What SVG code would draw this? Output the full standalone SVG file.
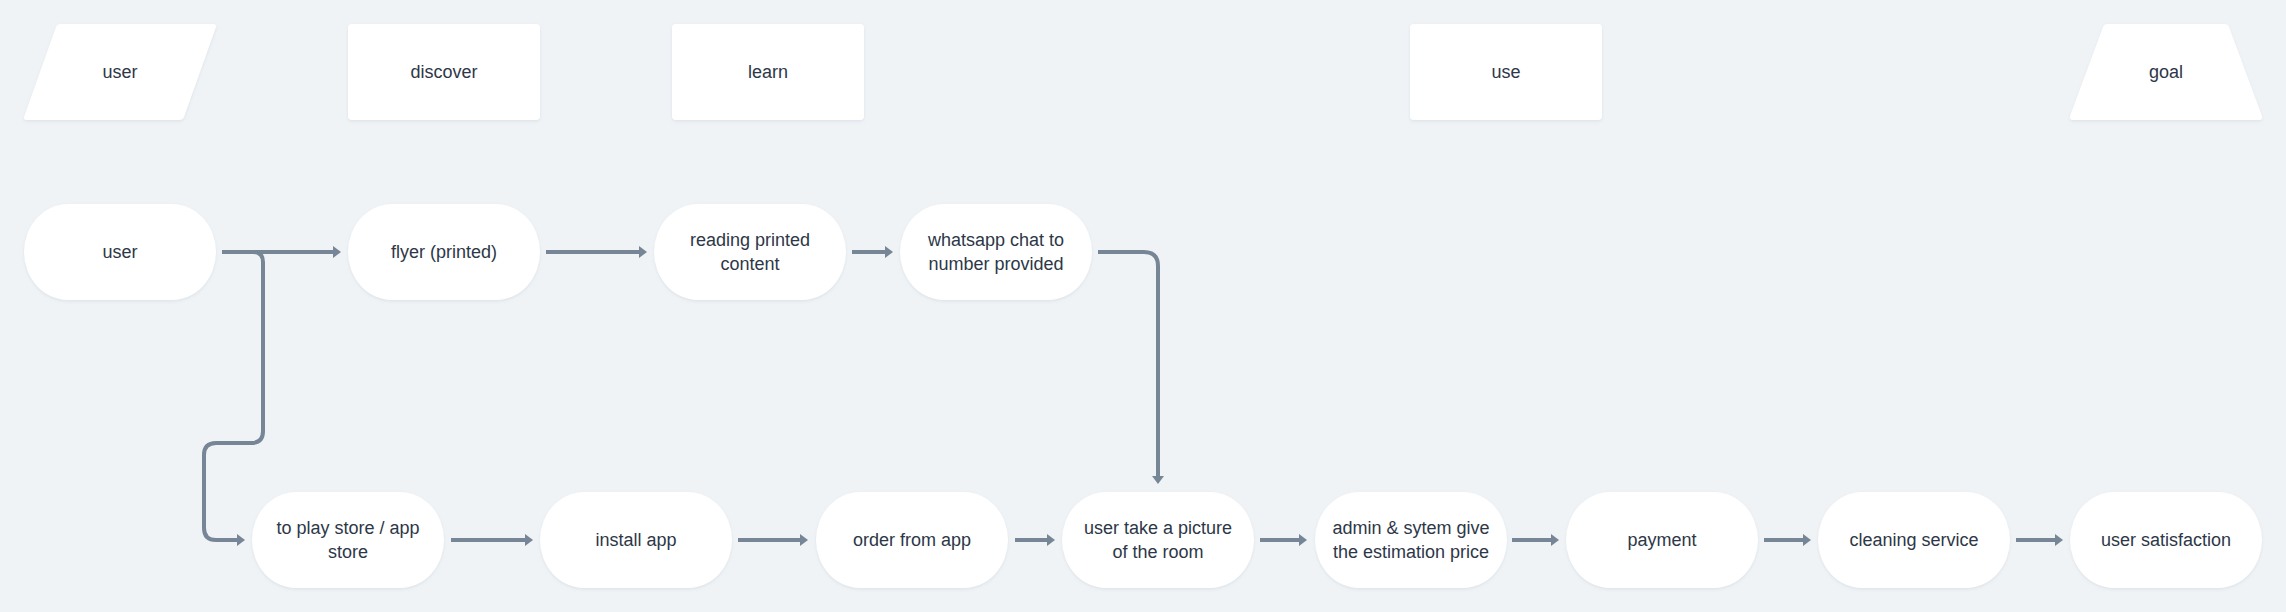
<svg xmlns="http://www.w3.org/2000/svg" width="2286" height="612" viewBox="0 0 2286 612">
<style>
.n{fill:#ffffff;filter:url(#sh)}
.t{font-family:"Liberation Sans",Arial,sans-serif;font-size:18px;fill:#2d3748;text-anchor:middle}
.c{fill:none;stroke:#768696;stroke-width:4;marker-end:url(#ah)}
</style>
<defs>
<filter id="sh" x="-10%" y="-10%" width="120%" height="130%">
<feDropShadow dx="0" dy="1.5" stdDeviation="1.5" flood-color="#8a99a8" flood-opacity="0.18"/>
</filter>
<marker id="ah" markerUnits="userSpaceOnUse" markerWidth="10" markerHeight="14" refX="0" refY="6" orient="auto">
<path d="M0,0 L8,6 L0,12 z" fill="#768696"/>
</marker>
</defs>
<rect width="2286" height="612" fill="#eff3f6"/>

<g id="h-user"><path class="n" d="M61,24 H213 Q217,24 216,27 L184,117 Q183,120 179,120 H27 Q23,120 24,117 L56,27 Q57,24 61,24 Z"/><text class="t" x="120" y="78">user</text></g>
<g id="h-discover"><rect class="n" x="348" y="24" width="192" height="96" rx="4"/><text class="t" x="444" y="78">discover</text></g>
<g id="h-learn"><rect class="n" x="672" y="24" width="192" height="96" rx="4"/><text class="t" x="768" y="78">learn</text></g>
<g id="h-use"><rect class="n" x="1410" y="24" width="192" height="96" rx="4"/><text class="t" x="1506" y="78">use</text></g>
<g id="h-goal"><path class="n" d="M2108,24 H2224 Q2228,24 2229,27 L2262,116 Q2263,120 2259,120 H2073 Q2069,120 2070,116 L2103,27 Q2104,24 2108,24 Z"/><text class="t" x="2166" y="78">goal</text></g>

<g id="user"><rect class="n" x="24" y="204" width="192" height="96" rx="44" ry="48"/><text class="t" x="120" y="258">user</text></g>
<g id="flyer"><rect class="n" x="348" y="204" width="192" height="96" rx="44" ry="48"/><text class="t" x="444" y="258">flyer (printed)</text></g>
<g id="reading"><rect class="n" x="654" y="204" width="192" height="96" rx="44" ry="48"/><text class="t" x="750" y="246">reading printed</text><text class="t" x="750" y="270">content</text></g>
<g id="whatsapp"><rect class="n" x="900" y="204" width="192" height="96" rx="44" ry="48"/><text class="t" x="996" y="246">whatsapp chat to</text><text class="t" x="996" y="270">number provided</text></g>

<g id="playstore"><rect class="n" x="252" y="492" width="192" height="96" rx="44" ry="48"/><text class="t" x="348" y="534">to play store / app</text><text class="t" x="348" y="558">store</text></g>
<g id="install"><rect class="n" x="540" y="492" width="192" height="96" rx="44" ry="48"/><text class="t" x="636" y="546">install app</text></g>
<g id="order"><rect class="n" x="816" y="492" width="192" height="96" rx="44" ry="48"/><text class="t" x="912" y="546">order from app</text></g>
<g id="picture"><rect class="n" x="1062" y="492" width="192" height="96" rx="44" ry="48"/><text class="t" x="1158" y="534">user take a picture</text><text class="t" x="1158" y="558">of the room</text></g>
<g id="admin"><rect class="n" x="1315" y="492" width="192" height="96" rx="44" ry="48"/><text class="t" x="1411" y="534">admin &amp; sytem give</text><text class="t" x="1411" y="558">the estimation price</text></g>
<g id="payment"><rect class="n" x="1566" y="492" width="192" height="96" rx="44" ry="48"/><text class="t" x="1662" y="546">payment</text></g>
<g id="cleaning"><rect class="n" x="1818" y="492" width="192" height="96" rx="44" ry="48"/><text class="t" x="1914" y="546">cleaning service</text></g>
<g id="satisfaction"><rect class="n" x="2070" y="492" width="192" height="96" rx="44" ry="48"/><text class="t" x="2166" y="546">user satisfaction</text></g>

<g id="connectors">
<path class="c" d="M222,252 H333"/>
<path class="c" d="M222,252 H253 Q263,252 263,262 V431 Q263,443 251,443 H216 Q204,443 204,455 V528 Q204,540 216,540 H237"/>
<path class="c" d="M546,252 H639"/>
<path class="c" d="M852,252 H885"/>
<path class="c" d="M1098,252 H1144 Q1158,252 1158,266 V476"/>
<path class="c" d="M451,540 H525"/>
<path class="c" d="M738,540 H800"/>
<path class="c" d="M1015,540 H1047"/>
<path class="c" d="M1260,540 H1299"/>
<path class="c" d="M1512,540 H1551"/>
<path class="c" d="M1764,540 H1803"/>
<path class="c" d="M2016,540 H2055"/>
</g>
</svg>
